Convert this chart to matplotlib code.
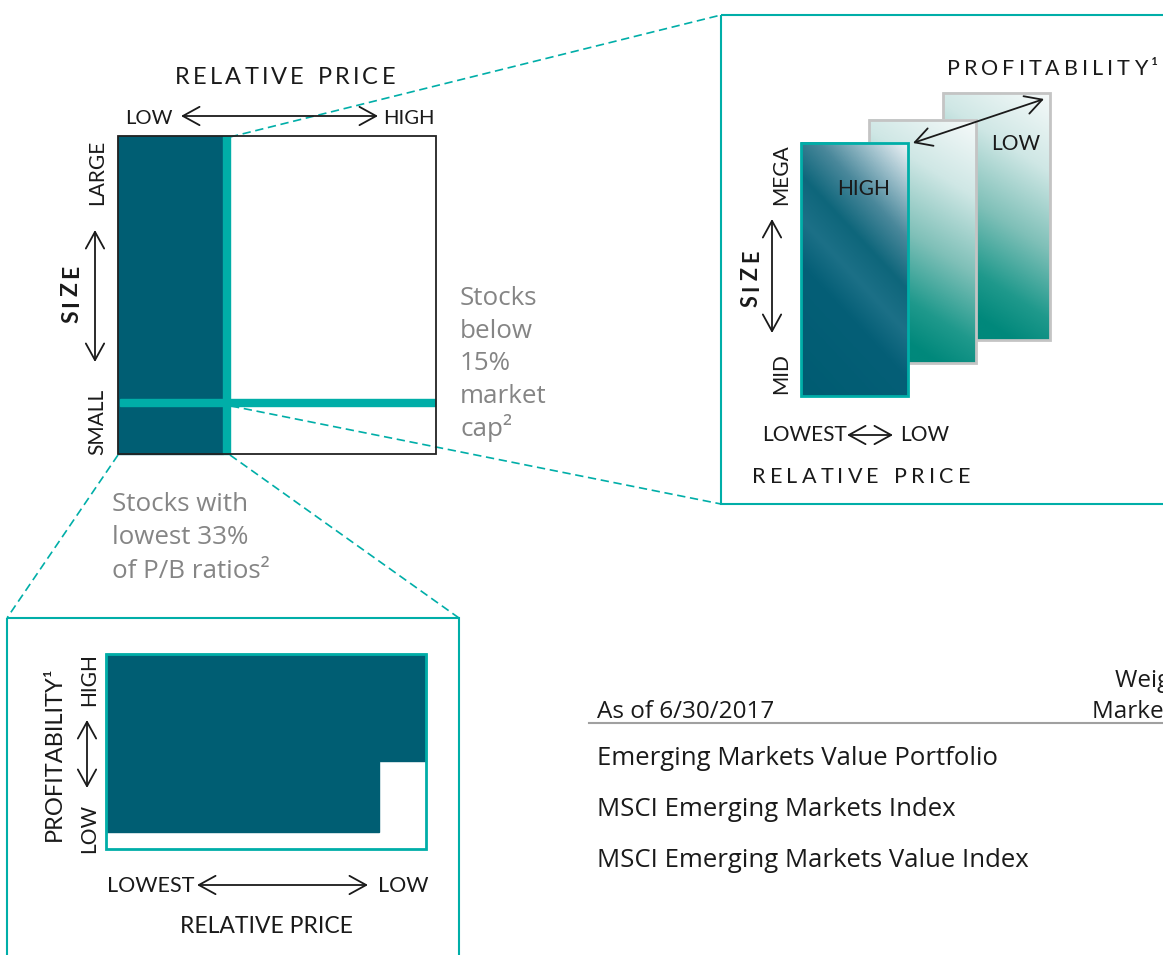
import matplotlib.pyplot as plt
import numpy as np
from matplotlib.patches import Rectangle, Polygon
from matplotlib.colors import LinearSegmentedColormap

plt.rcParams['font.family'] = ['Lato', 'DejaVu Sans']
BODY = ['Open Sans', 'DejaVu Sans']

DARK = '#005e73'
TEAL = '#00aea8'
GREY = '#858585'
INK = '#1a1a1a'

# texts of the diagram
main_title = 'RELATIVE PRICE'
price_ends = ['LOW', 'HIGH']
size_ends = ['LARGE', 'SMALL']
size_label = 'SIZE'
cap_note = ['Stocks', 'below', '15%', 'market', 'cap²']
pb_note = ['Stocks with', 'lowest 33%', 'of P/B ratios²']
prof_label = 'PROFITABILITY¹'
prof_ends = ['HIGH', 'LOW']
mega_ends = ['MEGA', 'MID']
price_ends2 = ['LOWEST', 'LOW']
table_date = 'As of 6/30/2017'
table_head = ['Weighted Average', 'Market Cap']
table_rows = ['Emerging Markets Value Portfolio',
              'MSCI Emerging Markets Index',
              'MSCI Emerging Markets Value Index']

fig = plt.figure(figsize=(11.63, 9.55), dpi=100)
ax = fig.add_axes([0, 0, 1, 1])
ax.set_xlim(0, 1163)
ax.set_ylim(955, 0)
ax.axis('off')
rend = fig.canvas.get_renderer()


def spaced(a, b, base, s, size, rot=False, **kw):
    # spread the letters of s evenly from a to b (tracking)
    ws = []
    for ch in s:
        if ch == ' ':
            ws.append(0.3 * size * 100 / 72)
            continue
        t = ax.text(0, 0, ch, fontsize=size, **kw)
        ws.append(t.get_window_extent(rend).width)
        t.remove()
    gap = (abs(b - a) - sum(ws)) / (len(s) - 1)
    pos = 0
    for ch, w in zip(s, ws):
        if ch != ' ':
            if rot:
                ax.text(base, a - pos, ch, rotation=90, rotation_mode='anchor',
                        ha='left', va='baseline', fontsize=size, color=INK, zorder=8, **kw)
            else:
                ax.text(a + pos, base, ch, ha='left', va='baseline',
                        fontsize=size, color=INK, zorder=8, **kw)
        pos += w + gap


def arrow(p0, p1):
    ax.annotate('', xy=p1, xytext=p0,
                arrowprops=dict(arrowstyle='<->,head_length=0.6,head_width=0.33',
                                lw=1.3, color=INK, shrinkA=0, shrinkB=0,
                                mutation_scale=20), zorder=8)


def vlabel(x, y, s, size, **kw):
    ax.text(x, y, s, rotation=90, rotation_mode='anchor', ha='center',
            va='baseline', fontsize=size, color=INK, zorder=8, **kw)


def label(x, y, s, size, ha='left', color=INK, **kw):
    ax.text(x, y, s, ha=ha, va='baseline', fontsize=size, color=color, zorder=8, **kw)


def dash(p0, p1):
    ax.plot([p0[0], p1[0]], [p0[1], p1[1]], color=TEAL, lw=1.2,
            ls=(0, (5, 2.8)), zorder=1)


# ---------- main size / price square ----------
ax.add_patch(Rectangle((118, 136), 105, 318, color=DARK, zorder=2))
ax.add_patch(Rectangle((223, 136), 7, 318, color=TEAL, zorder=3))
ax.add_patch(Rectangle((120, 399), 315, 7, color=TEAL, zorder=3))
ax.add_patch(Rectangle((118, 136), 318, 318, fill=False, ec='#222222', lw=1.3, zorder=4))

spaced(175, 395, 84, main_title, 17)
label(125, 124, price_ends[0], 14.5)
label(383, 124, price_ends[1], 14.5)
arrow((181, 116), (378, 116))

vlabel(103, 172, size_ends[0], 15)
vlabel(103, 422, size_ends[1], 15)
spaced(323, 265, 78, size_label, 16.5, rot=True, weight='bold')
arrow((95, 362), (95, 230))

for i, s in enumerate(cap_note):
    label(460, 305 + i * 32.7, s, 18.7, color=GREY, family=BODY)
for i, s in enumerate(pb_note):
    label(112, 510.5 + i * 33.7, s, 18.7, color=GREY, family=BODY)

dash((230, 137), (721, 15))
dash((231, 406), (721, 504))
dash((118, 455), (7, 618))
dash((230, 455), (459, 618))

# ---------- top right box: profitability panels ----------
ax.add_patch(Rectangle((721, 15), 600, 489, fill=False, ec=TEAL, lw=1.5, zorder=2))

spaced(947, 1158, 75, prof_label, 15.5)

light_cmap = LinearSegmentedColormap.from_list(
    'light', [(0, '#f6fafa'), (0.25, '#cfe7e5'), (0.5, '#7fc0b8'),
              (0.72, '#1f998c'), (0.86, '#00887b'), (1, '#00887b')])
dark_cmap = LinearSegmentedColormap.from_list(
    'dark', [(0, '#f0f4f7'), (0.12, '#a3c3ce'), (0.26, '#4a889b'),
             (0.4, '#0e667b'), (0.52, '#1c7087'), (0.64, '#055f77'),
             (1, '#005c72')])

uu, vv = np.meshgrid(np.linspace(0, 1, 120), np.linspace(0, 1, 240))
panels = [((943, 93), (1050, 340), light_cmap, '#c4c4c4', 3),
          ((869, 120), (976, 363), light_cmap, '#c4c4c4', 4),
          ((801, 143), (908, 396), dark_cmap, TEAL, 5)]
for (x0, y0), (x1, y1), cm, ec, z in panels:
    if cm is dark_cmap:
        d = ((1 - uu) * 0.45 + vv * 1.0) / 1.45
    else:
        d = (vv * 0.9 + (1 - uu) * 0.25) / 1.15
    ax.imshow(d, cmap=cm, vmin=0, vmax=1, extent=(x0, x1, y1, y0),
              aspect='auto', interpolation='bilinear', zorder=z)
    ax.add_patch(Rectangle((x0, y0), x1 - x0, y1 - y0, fill=False, ec=ec,
                           lw=2, zorder=z + 0.1))

arrow((913, 143), (1044, 99))
label(837, 195, prof_ends[0], 15)
label(991, 150, prof_ends[1], 15)

vlabel(787, 175, mega_ends[0], 15)
vlabel(787, 374, mega_ends[1], 15)
spaced(307, 250, 758, size_label, 15.5, rot=True, weight='bold')
arrow((772, 333), (772, 219))

label(762, 441, price_ends2[0], 15)
label(900, 441, price_ends2[1], 15)
arrow((847, 435), (893, 435))
spaced(752, 970, 483, main_title, 15.5)

# ---------- bottom left box: profitability screen ----------
ax.add_patch(Rectangle((7, 618), 452, 400, fill=False, ec=TEAL, lw=1.5, zorder=2))
ax.add_patch(Polygon([(106, 654), (426, 654), (426, 761), (379, 761),
                      (379, 832), (106, 832)], closed=True, color=DARK, zorder=3))
ax.add_patch(Rectangle((106, 654), 320, 195, fill=False, ec=TEAL, lw=2, zorder=4))

vlabel(61, 754, prof_label, 17)
vlabel(95, 680, prof_ends[0], 15)
vlabel(95, 828, prof_ends[1], 15)
arrow((87, 788), (87, 720))

label(107, 892, price_ends2[0], 15.5)
label(378, 892, price_ends2[1], 15.5)
arrow((197, 885), (368, 885))
label(266, 933, main_title, 16.5, ha='center')

# ---------- table ----------
label(597, 717.5, table_date, 17.5, family=BODY)
label(1115, 687, table_head[0], 17.5, family=BODY)
label(1092, 717.5, table_head[1], 17.5, family=BODY)
ax.plot([589, 1163], [722.7, 722.7], color='#a0a0a0', lw=1.5, zorder=2)
for i, s in enumerate(table_rows):
    label(597, 765 + i * 51, s, 18.5, family=BODY)

fig.savefig('out.png', dpi=100)
